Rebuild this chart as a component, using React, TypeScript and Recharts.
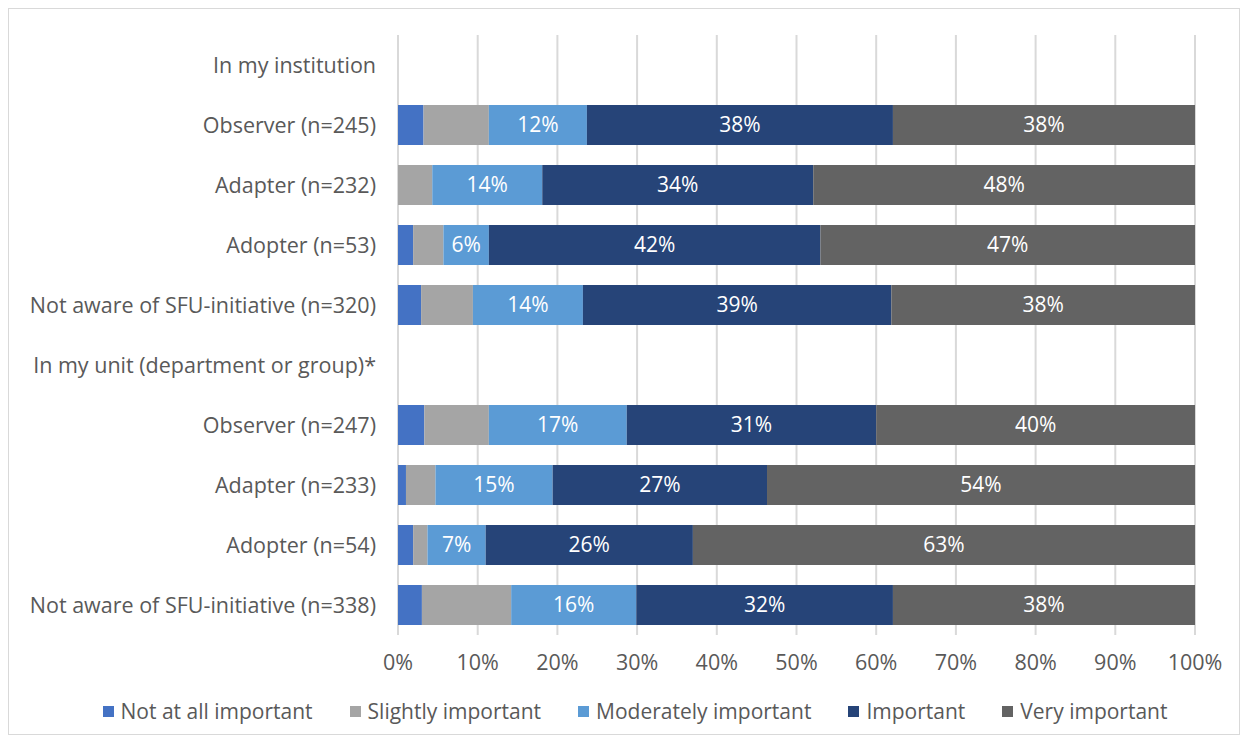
import { BarChart, Bar, XAxis, YAxis, CartesianGrid, Legend, LabelList } from 'recharts';

// Categorías (las filas de encabezado no tienen barras)
const categories = [
  'In my institution',
  'Observer (n=245)',
  'Adapter (n=232)',
  'Adopter (n=53)',
  'Not aware of SFU-initiative (n=320)',
  'In my unit (department or group)*',
  'Observer (n=247)',
  'Adapter (n=233)',
  'Adopter (n=54)',
  'Not aware of SFU-initiative (n=338)',
];

const notAtAll = [null, 3.2, 0, 1.9, 2.9, null, 3.3, 1.0, 1.9, 3.0];
const slightly = [null, 8.2, 4.3, 3.8, 6.5, null, 8.1, 3.7, 1.8, 11.2];
const moderately = [null, 12.3, 13.8, 5.7, 13.8, null, 17.3, 14.7, 7.3, 15.7];
const important = [null, 38.4, 34.0, 41.6, 38.7, null, 31.3, 26.9, 26.0, 32.2];
const veryImportant = [null, 37.9, 47.9, 47.0, 38.1, null, 40.0, 53.7, 63.0, 37.9];

const xTicks = [0, 10, 20, 30, 40, 50, 60, 70, 80, 90, 100];

const series = [
  { key: 'notAtAll', name: 'Not at all important', color: '#4472C4', label: false },
  { key: 'slightly', name: 'Slightly important', color: '#A5A5A5', label: false },
  { key: 'moderately', name: 'Moderately important', color: '#5B9BD5', label: true },
  { key: 'important', name: 'Important', color: '#264478', label: true },
  { key: 'veryImportant', name: 'Very important', color: '#636363', label: true },
];

const data = categories.map((name, i) => ({
  name,
  notAtAll: notAtAll[i],
  slightly: slightly[i],
  moderately: moderately[i],
  important: important[i],
  veryImportant: veryImportant[i],
}));

const FONT = '"Open Sans", "Noto Sans", sans-serif';
const TEXT = '#595959';

const fmtLabel = (v: any) => (v ? `${Math.round(Number(v))}%` : '');

function LegendContent() {
  return (
    <div style={{ display: 'flex', justifyContent: 'center', alignItems: 'center', gap: 37, height: 30, paddingLeft: 66 }}>
      {series.map((s) => (
        <div key={s.key} style={{ display: 'flex', alignItems: 'center' }}>
          <span style={{ width: 11, height: 11, background: s.color, display: 'inline-block', marginRight: 7 }} />
          <span style={{ fontFamily: FONT, fontSize: 21, color: TEXT }}>{s.name}</span>
        </div>
      ))}
    </div>
  );
}

export default function App() {
  return (
    <div style={{ width: 1230, height: 725, border: '1px solid #d9d9d9', background: '#fff' }}>
      <BarChart
        width={1230}
        height={725}
        data={data}
        layout="vertical"
        barSize={40}
        margin={{ top: 26, right: 44, left: 0, bottom: 8 }}
      >
        <CartesianGrid horizontal={false} stroke="#d9d9d9" strokeWidth={2} />
        <XAxis
          type="number"
          domain={[0, 100]}
          ticks={xTicks}
          tickFormatter={(v) => `${v}%`}
          axisLine={false}
          tickLine={false}
          tickSize={6}
          tickMargin={14}
          height={61}
          tick={{ fill: TEXT, fontSize: 21.5, fontFamily: FONT }}
        />
        <YAxis
          type="category"
          dataKey="name"
          width={389}
          axisLine={false}
          tickLine={false}
          tickSize={0}
          tickMargin={22}
          interval={0}
          tick={{ fill: TEXT, fontSize: 21.5, fontFamily: FONT }}
        />
        <Legend verticalAlign="bottom" content={<LegendContent />} wrapperStyle={{ height: 30 }} />
        {series.map((s) => (
          <Bar key={s.key} dataKey={s.key} name={s.name} stackId="a" fill={s.color} isAnimationActive={false}>
            {s.label && (
              <LabelList
                dataKey={s.key}
                position="center"
                formatter={fmtLabel}
                fill="#ffffff"
                style={{ fontFamily: FONT, fontSize: 21 }}
              />
            )}
          </Bar>
        ))}
      </BarChart>
    </div>
  );
}
